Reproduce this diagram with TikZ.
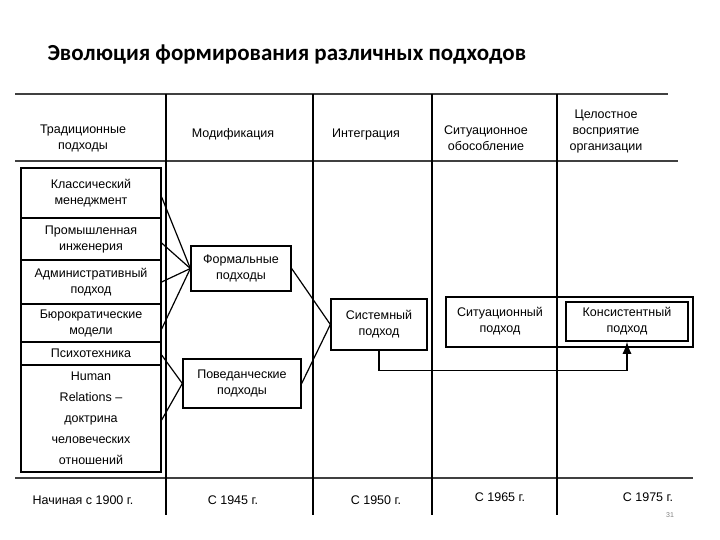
\documentclass[tikz,border=0pt]{standalone}
\usepackage{fontspec}
\usetikzlibrary{arrows.meta}
\setmainfont{Liberation Sans}
\newfontfamily\titlefont{Carlito}
\begin{document}
\begin{tikzpicture}[x=1pt,y=-1pt,
  bx/.style={draw,line width=1.3pt,align=center,font=\fontsize{12.5}{16}\selectfont,inner sep=0pt},
  lbl/.style={align=center,font=\fontsize{12.5}{16}\selectfont},
  ln/.style={line width=1.2pt},
  rule/.style={line width=2pt,black!75}]
\useasboundingbox (0,0) rectangle (720,540);
\node[anchor=west,font=\titlefont\bfseries\fontsize{23}{26}\selectfont] (title) at (44,55) {Эволюция формирования различных подходов};
% rules
\draw[rule] (15,94) -- (668,94);
\draw[rule] (15,161) -- (678,161);
\draw[rule] (15,478) -- (693,478);
\foreach \x in {166,313,432,557} \draw[ln] (\x,94) -- (\x,515);
% headers
\node[lbl] (h1) at (83,138) {Традиционные\\подходы};
\node[lbl] (h2) at (233,134) {Модификация};
\node[lbl] (h3) at (366,134) {Интеграция};
\node[lbl] (h4) at (486,138) {Ситуационное\\обособление};
\node[lbl] (h5) at (606,131) {Целостное\\восприятие\\организации};
% left boxes
\node[bx,minimum width=140pt,minimum height=50pt] (b1) at (91,193) {Классический\\менеджмент};
\node[bx,minimum width=140pt,minimum height=42pt] (b2) at (91,239) {Промышленная\\инженерия};
\node[bx,minimum width=140pt,minimum height=44pt] (b3) at (91,282) {Административный\\подход};
\node[bx,minimum width=140pt,minimum height=38pt] (b4) at (91,323) {Бюрократические\\модели};
\node[bx,minimum width=140pt,minimum height=23pt] (b5) at (91,353.5) {Психотехника};
\node[bx,minimum width=140pt,minimum height=107pt,font=\fontsize{12.5}{21}\selectfont] (b6) at (91,418.5) {Human\\Relations –\\доктрина\\человеческих\\отношений};
% middle
\node[bx,minimum width=100pt,minimum height=45pt] (f) at (241,268.5) {Формальные\\подходы};
\node[bx,minimum width=118pt,minimum height=49pt] (p) at (242,383.5) {Поведанческие\\подходы};
\node[bx,minimum width=96pt,minimum height=51pt] (s) at (379,324.5) {Системный\\подход};
\node[draw,line width=1.5pt,minimum width=247pt,minimum height=50pt] (sit) at (569.5,322) {};
\node[lbl] (sitt) at (500,321) {Ситуационный\\подход};
\node[bx,line width=1.6pt,minimum width=122pt,minimum height=39pt] (k) at (627,321.5) {Консистентный\\подход};
% connectors
\foreach \yy in {197,243,282,329} \draw[ln] (b1.east |- 0,\yy) -- (f.west);
\draw[ln] (b5.east |- 0,355) -- (p.west);
\draw[ln] (b6.east |- 0,420) -- (p.west);
\draw[ln] (f.east) -- (s.west);
\draw[ln] (p.east) -- (s.west);
\draw[ln,-{Latex[length=12pt,width=9pt]}] (s.south) -- ++(0,20) -| (k.south);
% bottom
\node[lbl] (d1) at (83,500) {Начиная с 1900 г.};
\node[lbl] (d2) at (233,500) {С 1945 г.};
\node[lbl] (d3) at (376,500) {С 1950 г.};
\node[lbl] (d4) at (500,497) {С 1965 г.};
\node[lbl] (d5) at (648,497) {С 1975 г.};
\node[font=\fontsize{7}{8}\selectfont,text=black!50] (pg) at (670,515) {31};
\end{tikzpicture}
\end{document}
